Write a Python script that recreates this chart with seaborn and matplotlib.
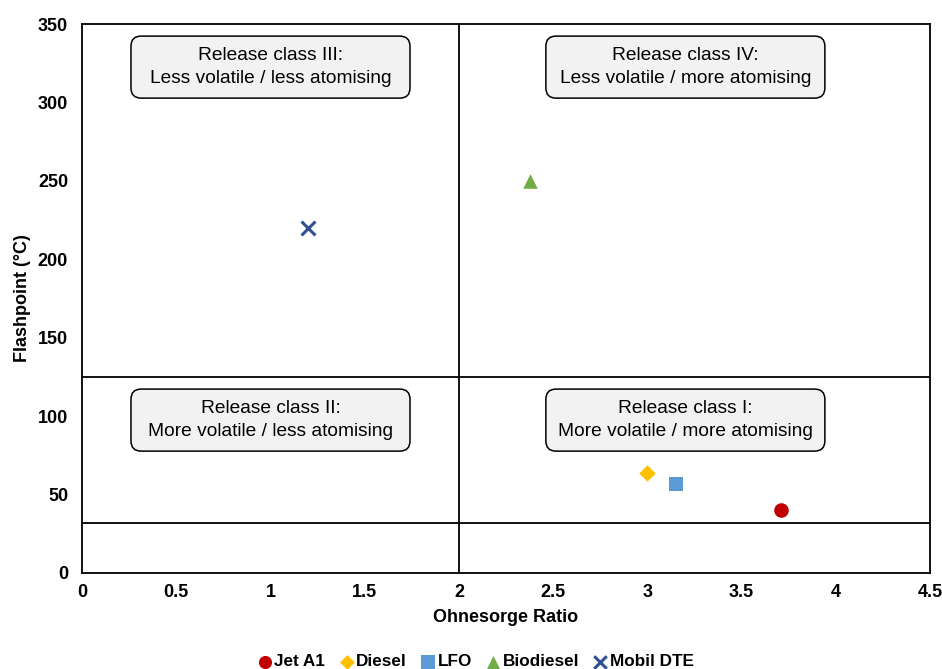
import matplotlib
matplotlib.use("Agg")
import matplotlib.pyplot as plt
from matplotlib.patches import FancyBboxPatch
import seaborn as sns
import pandas as pd

# Fuel properties
fuels = ["Jet A1", "Diesel", "LFO", "Biodiesel", "Mobil DTE"]
ohnesorge_ratio = [3.71, 3.0, 3.15, 2.38, 1.2]
flashpoint = [40, 64, 57, 250, 220]

# Release-class boundaries
ratio_split = 2.0
flash_split = 125
flash_floor = 32

x_ticks = [0, 0.5, 1, 1.5, 2, 2.5, 3, 3.5, 4, 4.5]
x_tick_labels = ["0", "0.5", "1", "1.5", "2", "2.5", "3", "3.5", "4", "4.5"]
y_ticks = [0, 50, 100, 150, 200, 250, 300, 350]

class_labels = [
    "Release class III:\nLess volatile / less atomising",
    "Release class IV:\nLess volatile / more atomising",
    "Release class II:\nMore volatile / less atomising",
    "Release class I:\nMore volatile / more atomising",
]

palette = {
    "Jet A1": "#C00000",
    "Diesel": "#FFC000",
    "LFO": "#5B9BD5",
    "Biodiesel": "#70AD47",
    "Mobil DTE": "#2F4F8F",
}
markers = {"Jet A1": "o", "Diesel": "D", "LFO": "s", "Biodiesel": "^", "Mobil DTE": "x"}
sizes = {"Jet A1": 110, "Diesel": 70, "LFO": 110, "Biodiesel": 110, "Mobil DTE": 100}

df = pd.DataFrame({"Fuel": fuels, "Ohnesorge": ohnesorge_ratio, "Flashpoint": flashpoint})

sns.set_theme(style="white")
plt.rcParams["font.family"] = ["Liberation Sans", "DejaVu Sans"]

fig = plt.figure(figsize=(9.42, 6.69), dpi=100)
ax = fig.add_axes([0.087, 0.1435, 0.9003, 0.8206])

ax.axhline(flash_split, color="black", lw=1.3, zorder=1)
ax.axhline(flash_floor, color="black", lw=1.3, zorder=1)
ax.axvline(ratio_split, color="black", lw=1.3, zorder=1)

for fuel in fuels:
    sub = df[df["Fuel"] == fuel]
    if markers[fuel] == "x":
        kw = dict(linewidth=2.2)
    else:
        kw = dict(linewidth=0)
    sns.scatterplot(data=sub, x="Ohnesorge", y="Flashpoint", ax=ax,
                    color=palette[fuel], marker=markers[fuel], label=fuel,
                    s=sizes[fuel], zorder=3, **kw)

ax.set_xlim(0, 4.5)
ax.set_ylim(0, 350)
ax.set_xticks(x_ticks)
ax.set_xticklabels(x_tick_labels)
ax.set_yticks(y_ticks)
ax.tick_params(axis="both", length=0, labelsize=13)
ax.tick_params(axis="y", pad=10)
ax.tick_params(axis="x", pad=8)
for lbl in ax.get_xticklabels() + ax.get_yticklabels():
    lbl.set_fontweight("bold")
    lbl.set_color("black")

for sp in ax.spines.values():
    sp.set_color("black")
    sp.set_linewidth(1.3)

ax.set_xlabel("Ohnesorge Ratio", fontsize=13, fontweight="bold", color="black", labelpad=6)
ax.set_ylabel("Flashpoint (°C)", fontsize=13, fontweight="bold", color="black", labelpad=5)

# Quadrant annotation boxes (axes-fraction positions)
box_w, box_h = 0.329, 0.113
box_pos = [(0.0578, 0.865), (0.547, 0.865), (0.0578, 0.222), (0.547, 0.222)]
aspect = 848 / 549
for (bx, by), text in zip(box_pos, class_labels):
    patch = FancyBboxPatch((bx, by), box_w, box_h,
                           boxstyle="round,pad=0,rounding_size=0.012",
                           mutation_aspect=aspect,
                           transform=ax.transAxes, facecolor="#F2F2F2",
                           edgecolor="black", linewidth=1.1, zorder=4)
    ax.add_patch(patch)
    ax.text(bx + box_w / 2, by + box_h / 2, text, transform=ax.transAxes,
            ha="center", va="center", fontsize=13.8, color="black",
            linespacing=1.45, zorder=5)

handles, labels = ax.get_legend_handles_labels()
leg = ax.legend(handles, labels, loc="center", bbox_to_anchor=(0.465, -0.162),
                ncol=5, frameon=False, handletextpad=0.2, columnspacing=0.9,
                handlelength=0.7, markerscale=0.9,
                prop={"weight": "bold", "size": 12.3})
for t in leg.get_texts():
    t.set_color("black")

fig.savefig("out.png", dpi=100)
